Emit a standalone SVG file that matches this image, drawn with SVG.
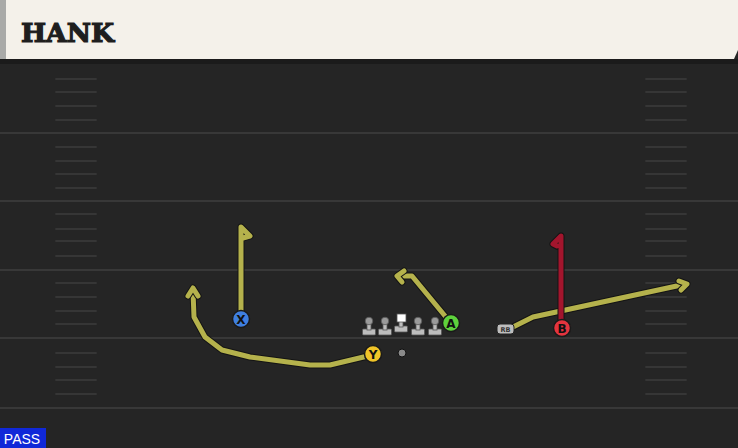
<svg xmlns="http://www.w3.org/2000/svg" width="738" height="448" viewBox="0 0 738 448">
<style>
.yl{stroke:#383838;stroke-width:2}
.hm{stroke:#363636;stroke-width:1.8;stroke-linecap:round}
.rt-o{fill:none;stroke:#141414;stroke-width:7;stroke-linejoin:round;stroke-linecap:round}
.rt{fill:none;stroke:#b5b24c;stroke-width:5;stroke-linejoin:round;stroke-linecap:round}
.rt-r{fill:none;stroke:#a3152d;stroke-width:5;stroke-linejoin:round;stroke-linecap:round}
.lbl{font-family:"DejaVu Sans","Liberation Sans",sans-serif;font-weight:bold;font-size:12px;fill:#111;text-anchor:middle}
.pl{stroke:#1a1a1a;stroke-width:1.5}
.ol{fill:#bdbdbd;stroke:#555;stroke-width:0.8}
</style>
<defs>
<g id="hash">
<line class="hm" x1="56" y1="0" x2="96" y2="0"/>
<line class="hm" x1="646" y1="0" x2="686" y2="0"/>
</g>
<g id="lman">
<rect class="ol" x="-6.5" y="8" width="13" height="6" rx="1"/>
<rect class="ol" x="-2" y="0" width="4" height="9"/>
<circle cx="0" cy="0" r="3.8" fill="#9a9a9a" stroke="#555" stroke-width="0.8"/>
</g>
</defs>
<rect x="0" y="0" width="738" height="448" fill="#252525"/>
<g id="field">
<line class="yl" x1="0" y1="133" x2="738" y2="133"/>
<line class="yl" x1="0" y1="201" x2="738" y2="201"/>
<line class="yl" x1="0" y1="270" x2="738" y2="270"/>
<line class="yl" x1="0" y1="338" x2="738" y2="338"/>
<line class="yl" x1="0" y1="408" x2="738" y2="408"/>
<use href="#hash" y="79"/><use href="#hash" y="92"/><use href="#hash" y="106"/><use href="#hash" y="120"/>
<use href="#hash" y="147"/><use href="#hash" y="161"/><use href="#hash" y="174"/><use href="#hash" y="188"/>
<use href="#hash" y="214"/><use href="#hash" y="229"/><use href="#hash" y="241"/><use href="#hash" y="256"/>
<use href="#hash" y="283"/><use href="#hash" y="297"/><use href="#hash" y="311"/><use href="#hash" y="324"/>
<use href="#hash" y="353"/><use href="#hash" y="367"/><use href="#hash" y="380"/><use href="#hash" y="394"/>
</g>
<g id="header">
<rect x="0" y="59" width="738" height="5" fill="#1b1b1b"/>
<path d="M0 0 H738 V50 L734 59 H0 Z" fill="#f4f1ea"/>
<rect x="0" y="0" width="6" height="59" fill="#a9aaa8"/>
<text x="21" y="42" font-family="'DejaVu Serif','Liberation Serif',serif" font-weight="bold" font-size="26" fill="#1e1e1e" stroke="#1e1e1e" stroke-width="1.2" textLength="93" lengthAdjust="spacingAndGlyphs">HANK</text>
</g>
<g id="connectors">
<path class="rt-o" d="M241 319 V227 L250 236 L243 238"/>
<path class="rt" d="M241 319 V227 L250 236 L243 238"/>
<path class="rt-o" d="M372 355 L330 365 L310 365 L250 357 L222 350 L205 337 L194 317 L193 291"/>
<path class="rt" d="M372 355 L330 365 L310 365 L250 357 L222 350 L205 337 L194 317 L193 291"/>
<path class="rt-o" d="M188 296 L193 288 L198 296"/>
<path class="rt" d="M188 296 L193 288 L198 296"/>
<path class="rt-o" d="M450 322 L412 276 L398 276"/>
<path class="rt" d="M450 322 L412 276 L398 276"/>
<path class="rt-o" d="M404 271 L397 276 L402 282"/>
<path class="rt" d="M404 271 L397 276 L402 282"/>
<path class="rt-o" d="M513 327 L533 317 L686 284"/>
<path class="rt" d="M513 327 L533 317 L686 284"/>
<path class="rt-o" d="M679 281 L687 284 L681 290"/>
<path class="rt" d="M679 281 L687 284 L681 290"/>
<path d="M561 328 V236 L553 244 L557 246" fill="none" stroke="#141414" stroke-width="7" stroke-linejoin="round" stroke-linecap="round"/>
<path class="rt-r" d="M561 328 V236 L553 244 L557 246"/>
</g>
<g id="line">
<use href="#lman" x="369" y="321"/>
<use href="#lman" x="385" y="321"/>
<g id="center">
<rect class="ol" x="394.5" y="326" width="13" height="6" rx="1"/>
<rect class="ol" x="399" y="320" width="4" height="7"/>
<rect x="397" y="314" width="9" height="8" fill="#ffffff" stroke="#555" stroke-width="0.8"/>
</g>
<use href="#lman" x="418" y="321"/>
<use href="#lman" x="435" y="321"/>
</g>
<g id="ball"><circle cx="402" cy="353" r="4" fill="#8a8a8a" stroke="#111" stroke-width="1"/></g>
<g id="X"><circle class="pl" cx="241" cy="319" r="8.5" fill="#3f7fe0"/><text class="lbl" x="241" y="323.5">X</text></g>
<g id="Y"><circle class="pl" cx="373" cy="354" r="8.5" fill="#f0c428"/><text class="lbl" x="373" y="358.5">Y</text></g>
<g id="A"><circle class="pl" cx="451" cy="323" r="8.5" fill="#5ed23c"/><text class="lbl" x="451" y="327.5">A</text></g>
<g id="B"><circle class="pl" cx="562" cy="328" r="8.5" fill="#e5343e"/><text class="lbl" x="562" y="332.5">B</text></g>
<g id="RB"><rect x="497" y="324" width="17" height="10" rx="3" fill="#bdbdbd" stroke="#222" stroke-width="1"/><text x="505.5" y="332" font-family="'DejaVu Sans','Liberation Sans',sans-serif" font-size="6.5" font-weight="bold" fill="#333" text-anchor="middle">RB</text></g>
<g id="pass"><rect x="0" y="428" width="46" height="20" fill="#1028d8"/><text x="22" y="444" font-family="'Liberation Sans',Arial,sans-serif" font-size="14" fill="#ffffff" text-anchor="middle">PASS</text></g>
</svg>
